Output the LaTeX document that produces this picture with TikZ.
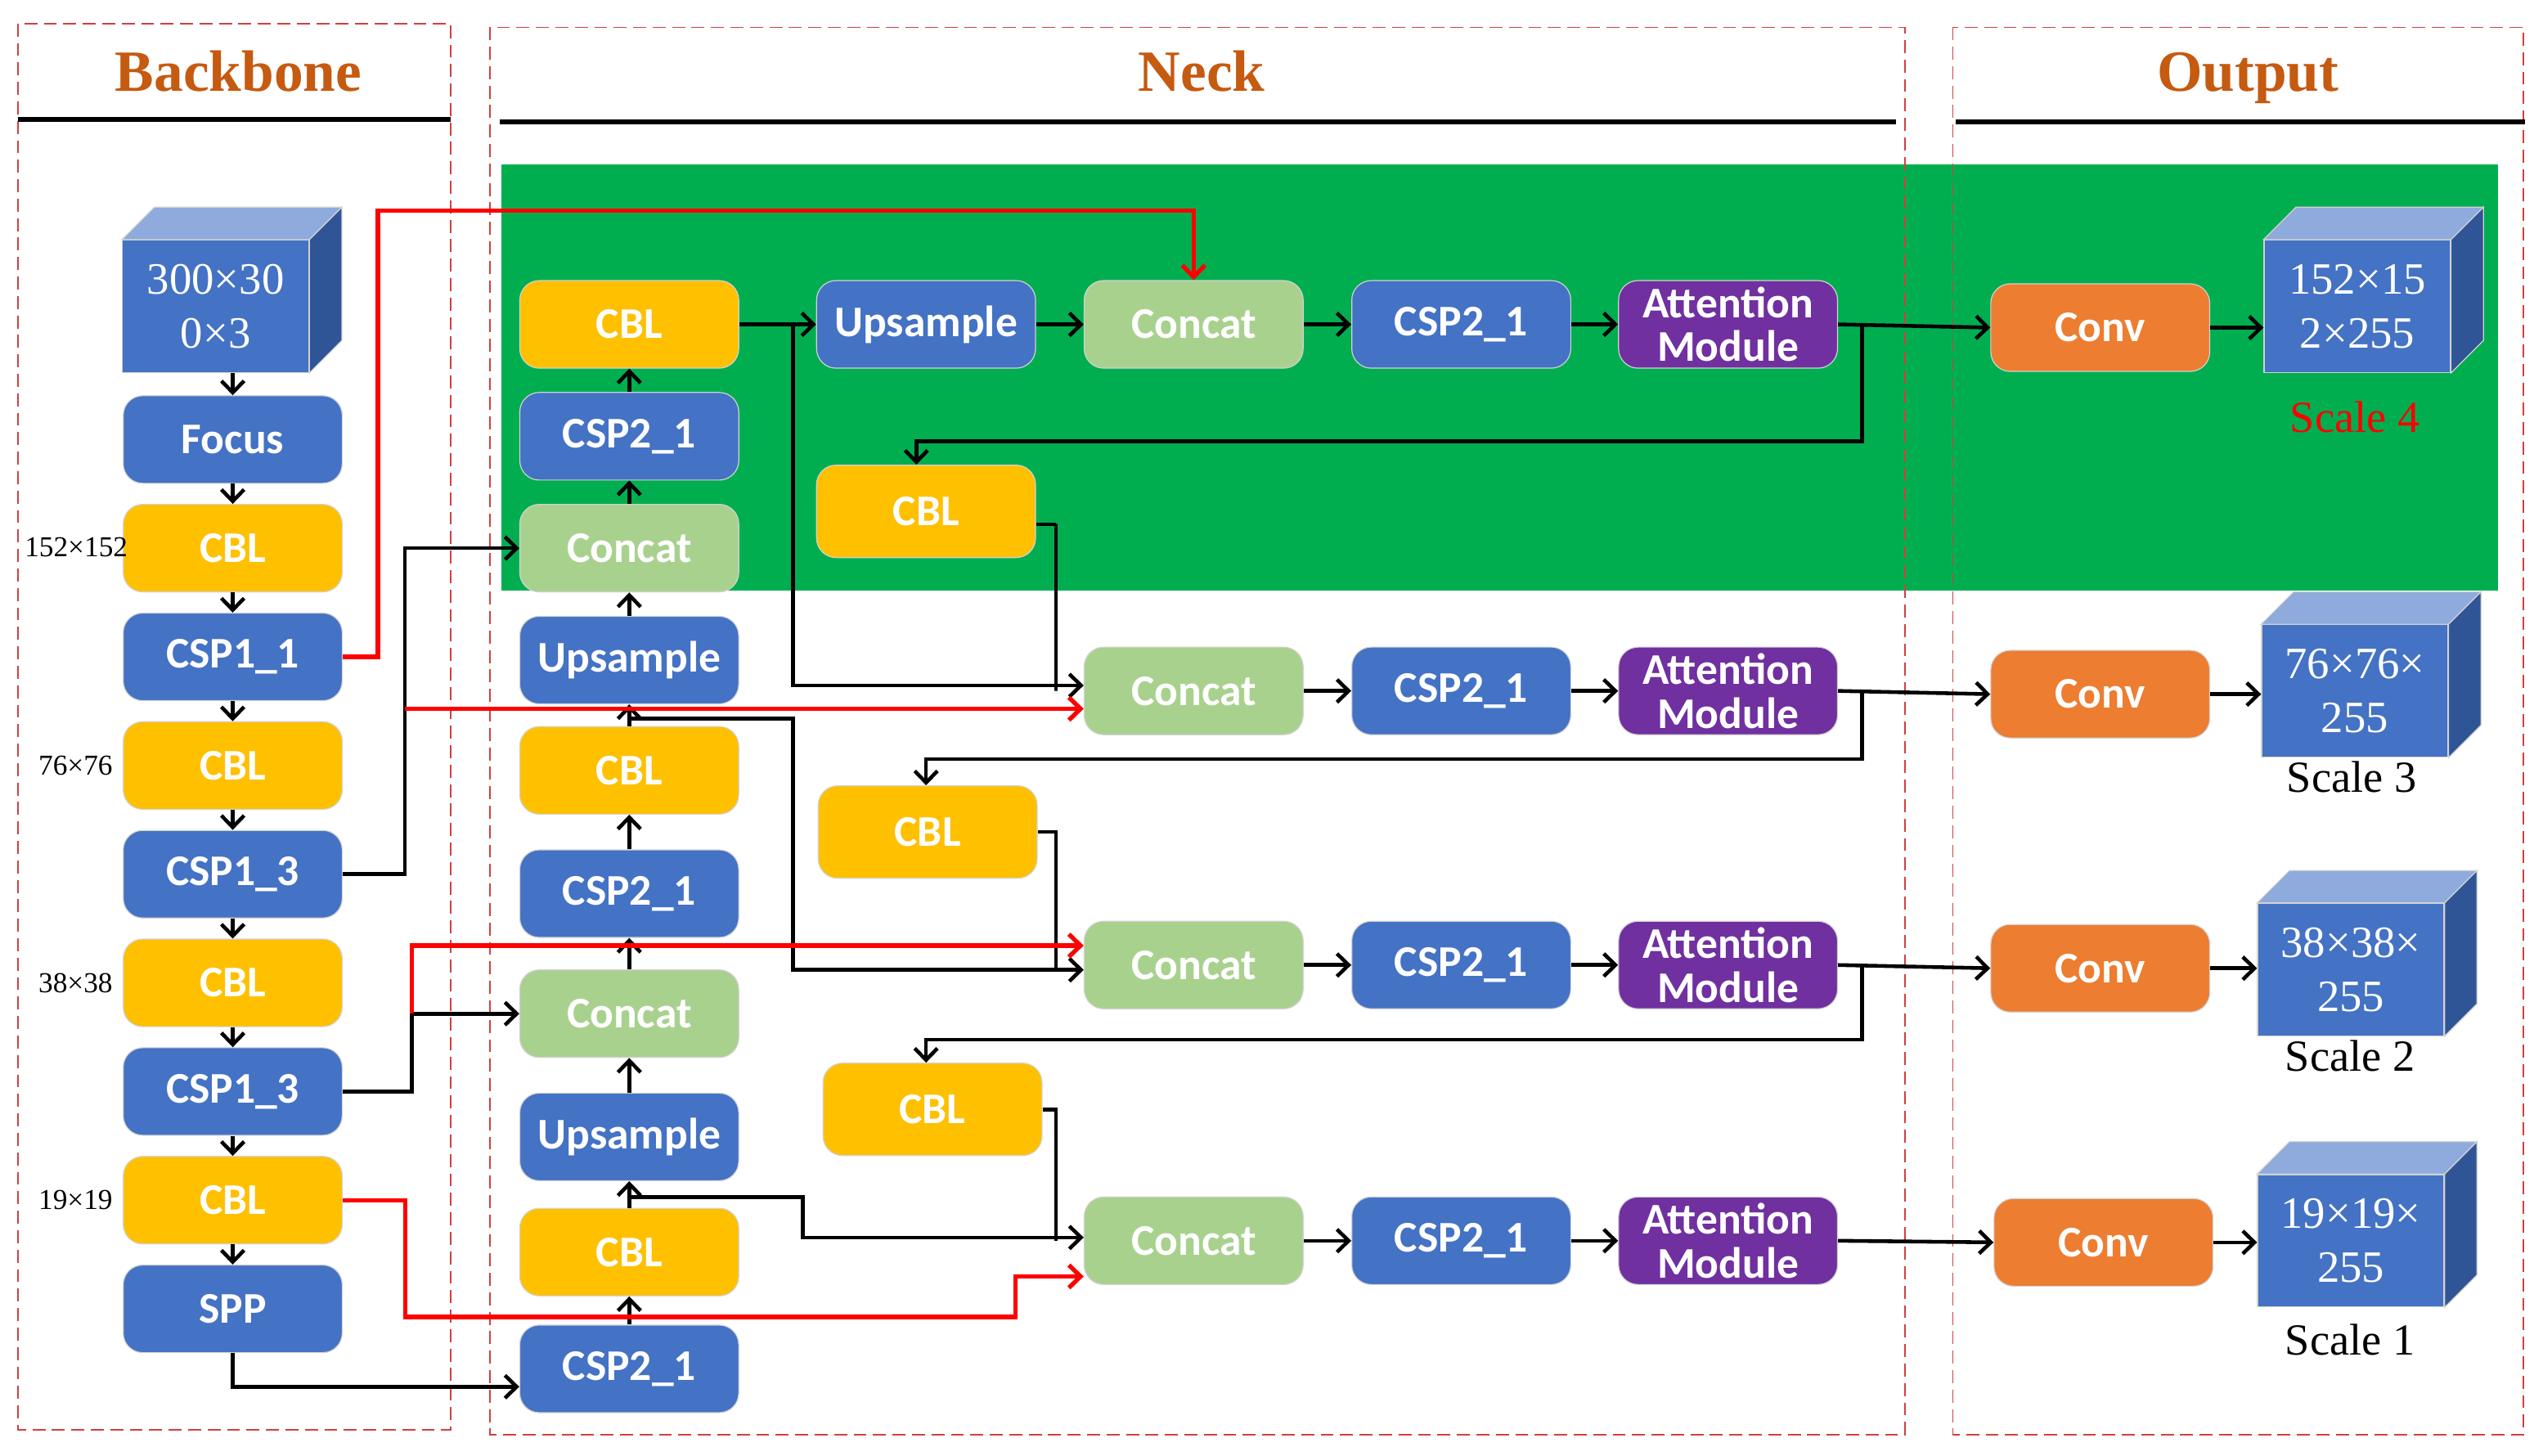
\documentclass[tikz,border=0pt]{standalone}
\usepackage{fontspec}
\setmainfont{Liberation Serif}
\newfontfamily\boxfont{Carlito}
\usetikzlibrary{arrows.meta,calc}
\definecolor{cblue}{HTML}{4472C4}
\definecolor{cyellow}{HTML}{FFC000}
\definecolor{cconcat}{HTML}{A9D18E}
\definecolor{cpurple}{HTML}{7030A0}
\definecolor{corange}{HTML}{ED7D31}
\definecolor{cgreen}{HTML}{00AE50}
\definecolor{ctop}{HTML}{8FAADC}
\definecolor{cside}{HTML}{2F5597}
\definecolor{ctitle}{HTML}{C55A11}
\definecolor{cdash}{HTML}{D04040}
\newcommand\cubefaces[1]{%
  \filldraw[fill=ctop,draw=gray!35,line width=0.3pt] (#1.north west) -- ([shift={(20,-20)}]#1.north west) -- ([shift={(20,-20)}]#1.north east) -- (#1.north east) -- cycle;
  \filldraw[fill=cside,draw=gray!35,line width=0.3pt] (#1.north east) -- ([shift={(20,-20)}]#1.north east) -- ([shift={(20,-20)}]#1.south east) -- (#1.south east) -- cycle;}
\begin{document}
\begin{tikzpicture}[x=0.5pt,y=-0.5pt,
  blk/.style={rounded corners=6pt,minimum width=67.5pt,minimum height=27pt,inner sep=0pt,draw=gray!35,line width=0.3pt,text=white,align=center,font=\boxfont\bfseries\fontsize{13.5pt}{13.5pt}\selectfont},
  bluebox/.style={blk,fill=cblue},
  yellowbox/.style={blk,fill=cyellow},
  concatbox/.style={blk,fill=cconcat},
  purplebox/.style={blk,fill=cpurple},
  orangebox/.style={blk,fill=corange},
  tallbox/.style={minimum height=28.5pt},
  arr/.style={-{Straight Barb[length=3.6pt,width=7pt]},line width=1.15pt},
  redarr/.style={arr,draw=red,line width=1.35pt},
  conn/.style={line width=1.15pt},
  cube/.style={fill=cblue,draw=gray!35,line width=0.3pt,minimum width=57.5pt,minimum height=40.8pt,inner sep=0pt,text=white,align=center,font=\fontsize{13.8pt}{16.7pt}\selectfont},
  dimlab/.style={font=\fontsize{8.9pt}{9pt}\selectfont},
  scalelab/.style={font=\fontsize{13.7pt}{14pt}\selectfont},
  title/.style={text=ctitle,anchor=base,font=\bfseries\fontsize{18pt}{18pt}\selectfont},
  dashbox/.style={draw=cdash,line width=0.4pt,dash pattern=on 4pt off 2pt},
  titleline/.style={line width=1.5pt}
]
\useasboundingbox (0,0) rectangle (1568,897.7);
% green band
\fill[cgreen] (309,101.6) rectangle (1540,364);
% dashed frames
\draw[dashbox] (11,14.5) rectangle (278,881.5);
\draw[dashbox] (302,16.8) rectangle (1174.5,884.5);
\draw[dashbox] (1204,16.8) rectangle (1556,884.5);
% titles
\node[title] (tb) at (147,56) {Backbone};
\node[title] (tn) at (741,56) {Neck};
\node[title] (to) at (1386,56) {Output};
\draw[titleline] (11,73.8) -- (278,73.8);
\draw[titleline] (308,75.3) -- (1169,75.3);
\draw[titleline] (1206,75.3) -- (1557,75.3);

% backbone
\node[cube] (cin) at (133,188.8) {300×30\\0×3};
\cubefaces{cin}
\node[bluebox] (focus) at (143.5,271) {Focus};
\node[yellowbox] (cblA) at (143.5,338) {CBL};
\node[bluebox] (csp11) at (143.5,405) {CSP1\_1};
\node[yellowbox] (cblB) at (143.5,472) {CBL};
\node[bluebox] (csp13a) at (143.5,539) {CSP1\_3};
\node[yellowbox] (cblC) at (143.5,606) {CBL};
\node[bluebox] (csp13b) at (143.5,673) {CSP1\_3};
\node[yellowbox] (cblD) at (143.5,740) {CBL};
\node[bluebox] (spp) at (143.5,807) {SPP};
\node[dimlab] (l152) at (47,337.5) {152×152};
\node[dimlab] (l76) at (46.6,472) {76×76};
\node[dimlab] (l38) at (46.6,606) {38×38};
\node[dimlab] (l19) at (46.6,739.7) {19×19};

% neck column
\node[yellowbox] (ncbl1) at (388,200) {CBL};
\node[bluebox] (ncsp1) at (388,269) {CSP2\_1};
\node[concatbox] (ncat1) at (388,338) {Concat};
\node[bluebox] (nup1) at (388,407) {Upsample};
\node[yellowbox] (ncbl2) at (388,475) {CBL};
\node[bluebox] (ncsp2) at (388,551) {CSP2\_1};
\node[concatbox] (ncat2) at (388,625) {Concat};
\node[bluebox] (nup2) at (388,701) {Upsample};
\node[yellowbox] (ncbl3) at (388,772) {CBL};
\node[bluebox] (ncsp3) at (388,844) {CSP2\_1};

% rows
\node[bluebox] (upr1) at (571,200) {Upsample};
\node[concatbox] (catr1) at (736,200) {Concat};
\node[bluebox] (cspr1) at (901,200) {CSP2\_1};
\node[purplebox] (attr1) at (1065.5,200) {Attention\\Module};
\node[orangebox] (convr1) at (1295,202) {Conv};
\node[cube] (cube4) at (1453.5,188.8) {152×15\\2×255};
\cubefaces{cube4}
\node[scalelab,text=red] (s4) at (1452,257) {Scale 4};

\node[yellowbox,tallbox] (cblr15) at (571,315.3) {CBL};

\node[concatbox] (catr2) at (736,426) {Concat};
\node[bluebox] (cspr2) at (901,426) {CSP2\_1};
\node[purplebox] (attr2) at (1065.5,426) {Attention\\Module};
\node[orangebox] (convr2) at (1295,428) {Conv};
\node[cube] (cube3) at (1452,426) {76×76×\\255};
\cubefaces{cube3}
\node[scalelab] (s3) at (1450,479) {Scale 3};

\node[yellowbox,tallbox] (cblr25) at (572,513) {CBL};

\node[concatbox] (catr3) at (736,595) {Concat};
\node[bluebox] (cspr3) at (901,595) {CSP2\_1};
\node[purplebox] (attr3) at (1065.5,595) {Attention\\Module};
\node[orangebox] (convr3) at (1295,597) {Conv};
\node[cube] (cube2) at (1449.5,597.8) {38×38×\\255};
\cubefaces{cube2}
\node[scalelab] (s2) at (1449,651) {Scale 2};

\node[yellowbox,tallbox] (cblr35) at (575,684) {CBL};

\node[concatbox] (catr4) at (736,765) {Concat};
\node[bluebox] (cspr4) at (901,765) {CSP2\_1};
\node[purplebox] (attr4) at (1065.5,765) {Attention\\Module};
\node[orangebox] (convr4) at (1297,766) {Conv};
\node[cube] (cube1) at (1449.5,765) {19×19×\\255};
\cubefaces{cube1}
\node[scalelab] (s1) at (1449,826) {Scale 1};

% junction coordinates
\coordinate (k1) at (249.6,539);
\coordinate (k2) at (254,673);
\coordinate (b1) at (489,200);
\coordinate (b2) at (1148,200);
\coordinate (t15) at (565,272);
\coordinate (b3) at (1148,426);
\coordinate (t25) at (571,468);
\coordinate (b4) at (1148,595);
\coordinate (t35) at (571,641);
\coordinate (j3) at (388,443);
\coordinate (j3b) at (489,443);
\coordinate (j4) at (388,738);
\coordinate (j4b) at (495,738);
\coordinate (v15) at (651,323);
\coordinate (v25) at (651,513);
\coordinate (v35) at (651,684);
\coordinate (r1a) at (233,130);
\coordinate (r2s) at (249.6,437);
\coordinate (r3s) at (254,625);
\coordinate (r4a) at (250,812);
\coordinate (r4b) at (626,787);

% backbone arrows
\draw[arr] (cin.south -| focus.north) -- (focus.north);
\draw[arr] (focus) -- (cblA);
\draw[arr] (cblA) -- (csp11);
\draw[arr] (csp11) -- (cblB);
\draw[arr] (cblB) -- (csp13a);
\draw[arr] (csp13a) -- (cblC);
\draw[arr] (cblC) -- (csp13b);
\draw[arr] (csp13b) -- (cblD);
\draw[arr] (cblD) -- (spp);

% neck column arrows (upward)
\draw[arr] (ncsp3) -- (ncbl3);
\draw[arr] (ncbl3) -- (nup2);
\draw[arr] (nup2) -- (ncat2);
\draw[arr] (ncat2) -- (ncsp2);
\draw[arr] (ncsp2) -- (ncbl2);
\draw[arr] (ncbl2) -- (nup1);
\draw[arr] (nup1) -- (ncat1);
\draw[arr] (ncat1) -- (ncsp1);
\draw[arr] (ncsp1) -- (ncbl1);

% backbone to neck
\draw[arr] (spp.south) |- ([yshift=-5.5pt]ncsp3.west);
\draw[arr] (csp13a.east) -- (k1) |- (ncat1.west);
\draw[arr] (csp13b.east) -- (k2) |- (ncat2.west);

% row 1
\draw[arr] (ncbl1) -- (upr1);
\draw[arr] (upr1) -- (catr1);
\draw[arr] (catr1) -- (cspr1);
\draw[arr] (cspr1) -- (attr1);
\draw[arr] (attr1.east) -- (convr1.west);
\draw[arr] (convr1.east) -- (convr1.east -| cube4.west);
\draw[arr] (b2) |- (t15) -- (t15 |- cblr15.north);
\draw[arr] (b1) |- ([yshift=1.7pt]catr2.west);
\draw[conn] ([yshift=-4pt]cblr15.east) -| (v15) -- (v15 |- catr2.west) -- ++(0,-3.4);

% row 2
\draw[arr] (catr2) -- (cspr2);
\draw[arr] (cspr2) -- (attr2);
\draw[arr] (attr2.east) -- (convr2.west);
\draw[arr] (convr2.east) -- (convr2.east -| cube3.west);
\draw[arr] (b3) |- (t25) -- (t25 |- cblr25.north);
\draw[conn] (cblr25.east) -- (v25) -- (v25 |- catr3.west) -- ++(0,3);
\draw[arr] (j3) -- (j3b) |- ([yshift=-1.5pt]catr3.west);

% row 3
\draw[arr] (catr3) -- (cspr3);
\draw[arr] (cspr3) -- (attr3);
\draw[arr] (attr3.east) -- (convr3.west);
\draw[arr] (convr3.east) -- (convr3.east -| cube2.west);
\draw[arr] (b4) |- (t35) -- (t35 |- cblr35.north);
\draw[conn] (cblr35.east) -- (v35) -- (v35 |- catr4.west) -- ++(0,-2);
\draw[arr] (j4) -- (j4b) |- ([yshift=1pt]catr4.west);

% row 4
\draw[arr] (catr4) -- (cspr4);
\draw[arr] (cspr4) -- (attr4);
\draw[arr] (attr4.east) -- (convr4.west);
\draw[arr] (convr4.east) -- (convr4.east -| cube1.west);

% red connectors
\draw[redarr] (csp11.east) -| (r1a) -| (catr1.north);
\draw[redarr] (r2s) -- ([yshift=-5.5pt]catr2.west);
\draw[redarr] (r3s) |- ([yshift=6pt]catr3.west);
\draw[redarr] (cblD.east) -| (r4a) -| (r4b) -- ([yshift=-11pt]catr4.west);
\end{tikzpicture}
\end{document}
